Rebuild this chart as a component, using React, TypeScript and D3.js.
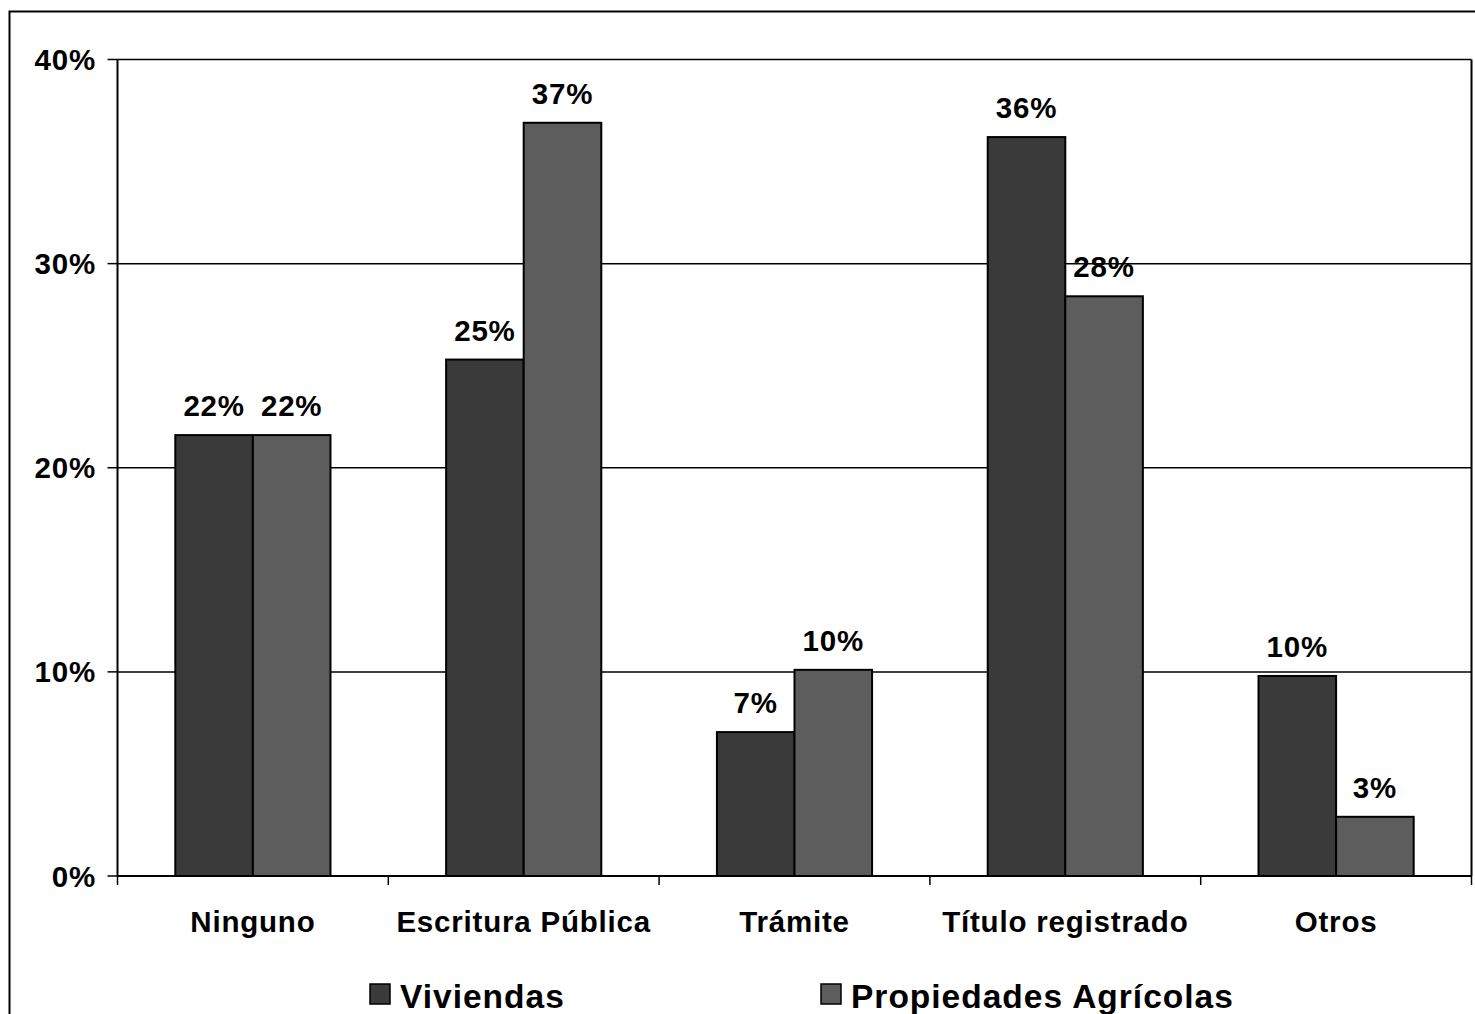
import React from "react";
import * as d3 from "d3";

const categories = ["Ninguno", "Escritura Pública", "Trámite", "Título registrado", "Otros"];
const seriesNames = ["Viviendas", "Propiedades Agrícolas"];
const viviendas = [0.216, 0.253, 0.0705, 0.362, 0.098];
const agricolas = [0.216, 0.369, 0.101, 0.284, 0.029];
const yTicks = [0, 0.1, 0.2, 0.3, 0.4];
const seriesColors = ["#3a3a3a", "#5d5d5d"];

const W = 1475;
const H = 1014;
const plot = { left: 117.5, right: 1471.5, top: 59.5, bottom: 876 };
const font = "'Liberation Sans', Arial, Helvetica, sans-serif";
const labelSize = 29.5;
const labelSpacing = 0.8;

export default function App() {
  const x = d3.scaleBand<string>().domain(categories).range([plot.left, plot.right]).padding(0);
  const groupWidth = x.bandwidth() * 0.573;
  const xInner = d3
    .scaleBand<number>()
    .domain([0, 1])
    .range([0, groupWidth])
    .padding(0);
  const y = d3.scaleLinear().domain([0, 0.4]).range([plot.bottom, plot.top]);
  const pct = d3.format(".0%");
  const series = [viviendas, agricolas];

  const boundaries = d3.range(categories.length + 1).map((i) => plot.left + i * x.bandwidth());

  const textProps = {
    fontFamily: font,
    fontWeight: "bold" as const,
    fontSize: labelSize,
    letterSpacing: labelSpacing,
    fill: "#000",
  };

  return (
    <svg width={W} height={H} style={{ position: "absolute", left: 0, top: 0, background: "#fff" }}>
      <rect x={0} y={0} width={W} height={H} fill="#fff" />
      {/* outer chart frame */}
      <path d={`M${W + 5},11.5 H9.5 V${H + 5}`} fill="none" stroke="#000" strokeWidth={2} />

      {/* gridlines */}
      {yTicks.slice(1).map((t) => (
        <line key={t} x1={plot.left} x2={plot.right} y1={y(t)} y2={y(t)} stroke="#000" strokeWidth={1.5} />
      ))}
      {/* plot frame right side */}
      <line x1={plot.right} x2={plot.right} y1={plot.top} y2={plot.bottom} stroke="#000" strokeWidth={2} />

      {/* bars */}
      {series.map((vals, si) =>
        categories.map((c, ci) => {
          const x0 = (x(c) as number) + (x.bandwidth() - groupWidth) / 2 + (xInner(si) as number);
          const v = vals[ci];
          return (
            <g key={`${si}-${ci}`}>
              <rect
                x={x0}
                y={y(v)}
                width={xInner.bandwidth()}
                height={plot.bottom - y(v)}
                fill={seriesColors[si]}
                stroke="#000"
                strokeWidth={2}
              />
              <text x={x0 + xInner.bandwidth() / 2} y={y(v) - 19} textAnchor="middle" {...textProps}>
                {pct(v)}
              </text>
            </g>
          );
        })
      )}

      {/* y axis */}
      <line x1={plot.left} x2={plot.left} y1={plot.top} y2={plot.bottom} stroke="#000" strokeWidth={2} />
      {yTicks.map((t) => (
        <g key={t}>
          <line x1={plot.left - 10} x2={plot.left} y1={y(t)} y2={y(t)} stroke="#000" strokeWidth={1.5} />
          <text x={96} y={y(t)} dy="0.36em" textAnchor="end" {...textProps}>
            {pct(t)}
          </text>
        </g>
      ))}

      {/* x axis */}
      <line x1={plot.left} x2={plot.right} y1={plot.bottom} y2={plot.bottom} stroke="#000" strokeWidth={2} />
      {boundaries.map((b, i) => (
        <line key={i} x1={b} x2={b} y1={plot.bottom} y2={plot.bottom + 9} stroke="#000" strokeWidth={1.5} />
      ))}
      {categories.map((c) => (
        <text key={c} x={(x(c) as number) + x.bandwidth() / 2} y={932} textAnchor="middle" {...textProps}>
          {c}
        </text>
      ))}

      {/* legend */}
      {seriesNames.map((name, i) => {
        const lx = [370, 821][i];
        return (
          <g key={name}>
            <rect x={lx} y={984} width={20} height={20} fill={seriesColors[i]} stroke="#000" strokeWidth={1.5} />
            <text
              x={lx + 30}
              y={1008}
              fontFamily={font}
              fontWeight="bold"
              fontSize={33.5}
              letterSpacing={1}
              fill="#000"
            >
              {name}
            </text>
          </g>
        );
      })}
    </svg>
  );
}
